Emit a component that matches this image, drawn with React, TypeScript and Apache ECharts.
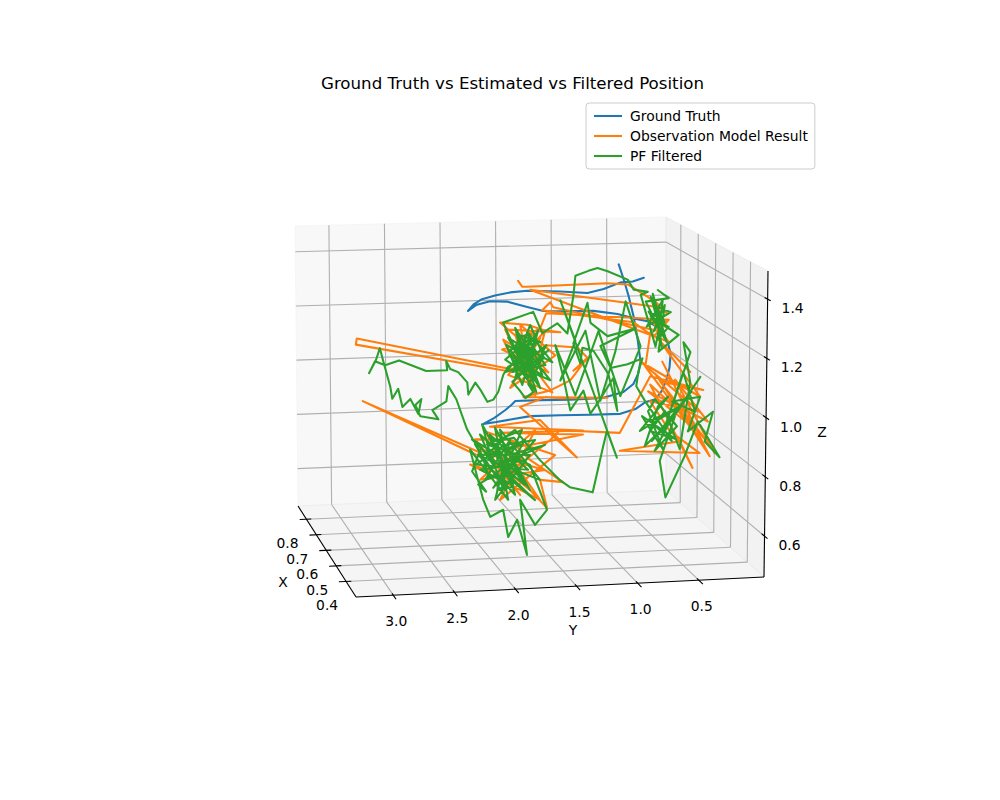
import React, { useEffect, useRef } from "react";
import * as echarts from "echarts";

type P3 = [number, number, number];

const TITLE = "Ground Truth vs Estimated vs Filtered Position";
const SERIES_NAMES = ["Ground Truth", "Observation Model Result", "PF Filtered"];
const SERIES_COLORS = ["#1f77b4", "#ff7f0e", "#2ca02c"];

// 3D axis limits (data units)
const X_LIM: [number, number] = [0.3, 0.885];
const Y_LIM: [number, number] = [-0.034, 3.305];
const Z_LIM: [number, number] = [0.462, 1.495];
const X_TICKS = [0.4, 0.5, 0.6, 0.7, 0.8];
const Y_TICKS = [0.5, 1.0, 1.5, 2.0, 2.5, 3.0];
const Z_TICKS = [0.6, 0.8, 1.0, 1.2, 1.4];

// ---------- Ground truth [x, y, z] ----------
const groundTruth: P3[] = [
  [0.59, 0.804, 1.433], [0.59, 0.761, 1.379], [0.59, 0.718, 1.318], [0.59, 0.676, 1.247], [0.59, 0.641, 1.165],
  [0.59, 0.616, 1.087], [0.59, 0.633, 1.045], [0.59, 0.676, 1.007], [0.59, 0.761, 0.98], [0.59, 0.932, 0.962],
  [0.59, 1.214, 0.96], [0.59, 1.471, 0.962], [0.59, 1.685, 0.962], [0.59, 1.719, 0.949], [0.59, 1.77, 0.932],
  [0.59, 1.864, 0.906], [0.59, 1.958, 0.886], [0.59, 1.847, 0.891], [0.59, 1.702, 0.899], [0.59, 1.556, 0.907],
  [0.59, 1.3, 0.906], [0.59, 1.043, 0.904], [0.59, 0.787, 0.903], [0.59, 0.658, 0.918], [0.59, 0.573, 0.941],
  [0.59, 0.487, 0.95], [0.59, 0.436, 0.977], [0.59, 0.393, 1.019], [0.59, 0.368, 1.061], [0.59, 0.359, 1.11],
  [0.59, 0.385, 1.153], [0.59, 0.445, 1.197], [0.59, 0.547, 1.227], [0.59, 0.676, 1.24], [0.59, 0.812, 1.257],
  [0.59, 1.018, 1.271], [0.59, 1.3, 1.273], [0.59, 1.445, 1.276], [0.59, 1.582, 1.292], [0.59, 1.753, 1.313],
  [0.59, 1.898, 1.316], [0.59, 2.018, 1.304], [0.59, 2.086, 1.284], [0.59, 2.035, 1.308], [0.59, 1.967, 1.324],
  [0.59, 1.856, 1.336], [0.59, 1.727, 1.345], [0.59, 1.582, 1.349], [0.59, 1.3, 1.343], [0.59, 1.069, 1.335],
  [0.59, 0.932, 1.347], [0.59, 0.787, 1.369], [0.59, 0.684, 1.371], [0.59, 0.59, 1.383],
];

// ---------- Observation model result ----------
const obsUpper: P3[] = [
  [0.59, 1.659, 1.385], [0.59, 1.625, 1.364], [0.59, 1.582, 1.363], [0.59, 0.898, 1.367], [0.59, 0.727, 1.361],
  [0.59, 0.556, 1.315], [0.59, 0.385, 1.252], [0.59, 0.488, 1.296], [0.59, 0.402, 1.206], [0.59, 0.53, 1.233],
  [0.59, 0.377, 1.153], [0.59, 1.557, 1.352], [0.59, 0.488, 1.279], [0.59, 0.445, 1.19], [0.59, 1.36, 1.288],
  [0.59, 1.386, 1.306], [0.59, 1.454, 1.279], [0.59, 0.676, 1.226], [0.59, 0.505, 1.173], [0.59, 0.377, 1.231],
  [0.59, 1.42, 1.268], [0.59, 1.471, 1.216], [0.59, 1.642, 1.177], [0.59, 1.813, 1.24], [0.59, 1.582, 1.229],
  [0.59, 1.445, 1.209], [0.59, 1.3, 1.199],
  [0.59, 1.77, 1.215], [0.59, 1.514, 0.98], [0.59, 1.685, 1.196], [0.59, 1.403, 1.059], [0.59, 1.796, 1.145],
  [0.59, 1.471, 1.181], [0.59, 1.728, 1.009], [0.59, 1.343, 1.118], [0.59, 1.642, 1.23], [0.59, 1.557, 1.017],
  [0.59, 1.428, 1.208], [0.59, 1.745, 1.055], [0.59, 1.368, 0.988], [0.59, 1.659, 1.149], [0.59, 1.488, 1.096],
  [0.59, 1.787, 1.18],
  [0.59, 1.728, 1.126], [0.59, 1.599, 1.07], [0.59, 1.77, 1.08],
  [0.59, 3.035, 1.2], [0.59, 3.044, 1.179], [0.59, 1.71, 1.065], [0.59, 1.557, 1.105], [0.59, 1.428, 1.155],
  [0.59, 1.155, 1.143], [0.59, 1.061, 1.102], [0.59, 1.189, 1.062], [0.59, 1.069, 1.106], [0.59, 1.215, 1.028],
  [0.59, 1.386, 0.995], [0.59, 1.616, 0.975], [0.59, 0.898, 0.962], [0.59, 1.3, 0.966], [0.59, 1.428, 0.972],
];
const obsLower: P3[] = [
  [0.4, 1.856, 1.025], [0.4, 1.386, 0.846], [0.4, 1.691, 0.978], [0.4, 2.104, 0.962], [0.4, 1.336, 0.937],
  [0.4, 2.022, 0.94], [0.4, 1.336, 0.923], [0.4, 1.774, 0.895], [0.4, 2.203, 0.879], [0.4, 3.153, 1.064],
  [0.4, 2.22, 0.869], [0.4, 1.856, 0.862], [0.4, 1.98, 0.814], [0.4, 1.774, 0.742], [0.4, 1.633, 0.679],
  [0.4, 1.691, 0.775], [0.4, 1.501, 0.764], [0.4, 1.774, 0.844], [0.4, 1.939, 0.915],
  [0.4, 2.228, 0.921], [0.4, 1.856, 0.727], [0.4, 2.104, 0.867], [0.4, 1.65, 0.808], [0.4, 2.187, 0.784],
  [0.4, 1.732, 0.945], [0.4, 2.022, 0.713], [0.4, 1.567, 0.857], [0.4, 2.145, 0.946], [0.4, 1.898, 0.785],
  [0.4, 2.269, 0.837], [0.4, 1.691, 0.707], [0.4, 1.98, 0.882], [0.4, 1.815, 0.828], [0.4, 2.063, 0.765],
  [0.4, 1.609, 0.908],
  [0.4, 1.526, 0.941],
  [0.4, 1.031, 0.924], [0.4, 0.783, 1.113], [0.4, 0.345, 1.06], [0.4, 0.7, 1.094], [0.4, 0.263, 0.858],
  [0.4, 0.453, 0.954], [0.4, 0.783, 1.085], [0.4, 0.428, 0.794], [0.4, 0.535, 0.887], [0.4, 1.031, 0.863],
  [0.4, 0.37, 0.844], [0.4, 0.618, 0.923], [0.4, 0.783, 1.028], [0.4, 0.37, 0.986], [0.4, 0.866, 1.165],
  [0.4, 0.37, 1.037], [0.4, 0.7, 1.23], [0.4, 0.453, 1.123], [0.4, 0.783, 1.265],
  [0.4, 0.824, 1.147], [0.4, 0.329, 0.866], [0.4, 0.742, 1.122], [0.4, 0.287, 0.832], [0.4, 0.684, 1.162],
  [0.4, 0.387, 0.919], [0.4, 0.799, 1.062], [0.4, 0.304, 0.951], [0.4, 0.577, 1.099], [0.4, 0.246, 0.841],
];

// ---------- PF filtered ----------
const pfUpperRight: P3[] = [
  [0.59, 0.471, 1.338], [0.59, 0.377, 1.308], [0.59, 0.573, 1.298], [0.59, 0.445, 1.19], [0.59, 0.53, 1.315],
  [0.59, 0.411, 1.224], [0.59, 0.548, 1.262], [0.59, 0.394, 1.153], [0.59, 0.513, 1.325], [0.59, 0.436, 1.136],
  [0.59, 0.488, 1.279], [0.59, 0.359, 1.258], [0.59, 0.565, 1.209], [0.59, 0.428, 1.302], [0.59, 0.471, 1.162],
  [0.59, 0.377, 1.206], [0.59, 0.53, 1.244], [0.59, 0.291, 1.176], [0.59, 0.462, 1.119], [0.59, 0.411, 1.284],
  [0.59, 0.505, 1.191], [0.59, 0.445, 1.232], [0.59, 0.488, 1.137], [0.59, 0.616, 1.323],
];
const pfTopArc: P3[] = [
  [0.59, 0.556, 1.333], [0.59, 0.676, 1.342], [0.59, 0.727, 1.378], [0.59, 0.898, 1.41], [0.59, 0.984, 1.422],
  [0.59, 1.061, 1.413], [0.59, 1.172, 1.397], [0.59, 1.189, 1.327], [0.59, 1.24, 1.194], [0.59, 1.326, 1.231],
  [0.59, 1.454, 1.198], [0.59, 1.531, 1.274],
];
const pfUpperLeft: P3[] = [
  [0.59, 1.787, 1.24], [0.59, 1.71, 1.161], [0.59, 1.762, 1.215], [0.59, 1.642, 1.106], [0.59, 1.745, 1.186],
  [0.59, 1.557, 1.133], [0.59, 1.685, 1.22], [0.59, 1.599, 1.07], [0.59, 1.728, 1.143], [0.59, 1.471, 1.167],
  [0.59, 1.659, 1.195], [0.59, 1.514, 1.033], [0.59, 1.77, 1.109], [0.59, 1.574, 1.176], [0.59, 1.428, 1.085],
  [0.59, 1.71, 1.065], [0.59, 1.488, 1.209], [0.59, 1.625, 1.018], [0.59, 1.762, 1.162], [0.59, 1.539, 1.104],
  [0.59, 1.659, 1.142], [0.59, 1.608, 1.12], [0.59, 1.676, 1.1], [0.59, 1.582, 1.084], [0.59, 1.633, 1.113],
  [0.59, 1.557, 1.147], [0.59, 1.616, 1.166], [0.59, 1.693, 1.146], [0.59, 1.642, 1.187], [0.59, 1.565, 1.197],
  [0.59, 1.514, 1.157], [0.59, 1.582, 1.133], [0.59, 1.522, 1.083], [0.59, 1.462, 1.103], [0.59, 1.505, 1.068],
  [0.59, 1.574, 1.02], [0.59, 1.531, 0.991], [0.59, 1.599, 0.971], [0.59, 1.651, 1.001], [0.59, 1.71, 1.03],
  [0.59, 1.403, 1.137], [0.59, 1.685, 1.044], [0.59, 1.582, 1.204], [0.59, 1.454, 1.05], [0.59, 1.736, 1.126],
  [0.59, 1.505, 0.991], [0.59, 1.642, 1.17], [0.59, 1.386, 1.031], [0.59, 1.693, 1.09], [0.59, 1.557, 1.228],
  [0.59, 1.437, 1.109], [0.59, 1.762, 1.066], [0.59, 1.599, 1.148], [0.59, 1.471, 1.004], [0.59, 1.668, 1.125],
  [0.59, 1.531, 1.182], [0.59, 1.368, 1.094], [0.59, 1.719, 1.178], [0.59, 1.574, 1.042], [0.59, 1.42, 1.155],
  [0.59, 1.651, 1.078], [0.59, 1.497, 1.132],
];
const pfLeftWander: P3[] = [
  [0.59, 1.745, 1.084], [0.59, 1.787, 1.056], [0.59, 1.83, 0.997], [0.59, 1.872, 0.97], [0.59, 1.924, 0.963],
  [0.59, 1.984, 1.007], [0.59, 2.026, 1.032], [0.59, 2.086, 0.991], [0.59, 2.095, 1.034], [0.59, 2.172, 1.071],
  [0.59, 2.24, 1.083], [0.59, 2.274, 1.111], [0.59, 2.266, 1.079], [0.59, 2.445, 1.079], [0.59, 2.676, 1.119],
  [0.59, 2.796, 1.104], [0.59, 2.881, 1.119], [0.59, 2.933, 1.078], [0.59, 2.873, 1.123], [0.59, 2.839, 1.164],
  [0.59, 2.804, 1.107], [0.59, 2.753, 1.029], [0.59, 2.736, 0.986], [0.59, 2.685, 1.02], [0.59, 2.65, 0.956],
  [0.59, 2.582, 0.983], [0.59, 2.514, 0.929], [0.59, 2.488, 0.981], [0.59, 2.539, 0.961], [0.59, 2.497, 0.921],
  [0.59, 2.343, 0.908], [0.59, 2.394, 0.941], [0.59, 2.274, 0.97], [0.59, 2.257, 1.023], [0.59, 2.189, 0.976],
];
const pfLowerLeft: P3[] = [
  [0.4, 2.294, 0.956], [0.4, 2.104, 0.817], [0.4, 2.228, 0.904], [0.4, 1.98, 0.746], [0.4, 2.187, 0.937],
  [0.4, 1.856, 0.812], [0.4, 2.145, 0.783], [0.4, 1.939, 0.915], [0.4, 2.063, 0.714], [0.4, 1.774, 0.861],
  [0.4, 2.203, 0.869], [0.4, 1.898, 0.728], [0.4, 2.022, 0.951], [0.4, 1.691, 0.775], [0.4, 2.121, 0.851],
  [0.4, 1.815, 0.913], [0.4, 1.98, 0.797], [0.4, 1.732, 0.707], [0.4, 2.253, 0.921], [0.4, 2.038, 0.866],
  [0.4, 2.046, 0.856], [0.4, 1.997, 0.821], [0.4, 2.071, 0.799], [0.4, 1.964, 0.773], [0.4, 2.03, 0.747],
  [0.4, 1.922, 0.755], [0.4, 1.972, 0.807], [0.4, 1.889, 0.846], [0.4, 1.947, 0.881], [0.4, 1.856, 0.896],
  [0.4, 1.906, 0.921], [0.4, 1.997, 0.916], [0.4, 2.088, 0.884], [0.4, 2.154, 0.845], [0.4, 2.112, 0.789],
  [0.4, 2.203, 0.768], [0.4, 2.137, 0.743], [0.4, 2.253, 0.813], [0.4, 2.178, 0.893], [0.4, 2.079, 0.833],
  [0.4, 2.17, 0.971], [0.4, 1.922, 0.779], [0.4, 2.104, 0.935], [0.4, 1.79, 0.811], [0.4, 2.22, 0.836],
  [0.4, 1.98, 0.899], [0.4, 1.732, 0.911], [0.4, 2.079, 0.755], [0.4, 1.873, 0.863], [0.4, 2.129, 0.902],
  [0.4, 1.84, 0.947], [0.4, 2.022, 0.781], [0.4, 2.187, 0.818], [0.4, 1.914, 0.83], [0.4, 1.774, 0.742],
  [0.4, 2.063, 0.958], [0.4, 1.955, 0.712], [0.4, 2.269, 0.887], [0.4, 2.162, 0.716], [0.4, 2.104, 0.657],
  [0.4, 1.997, 0.679], [0.4, 1.955, 0.586], [0.4, 1.881, 0.643], [0.4, 1.799, 0.522], [0.4, 1.856, 0.71],
  [0.4, 1.732, 0.623], [0.4, 1.633, 0.672], [0.4, 1.774, 0.827], [0.4, 1.939, 0.864], [0.4, 1.65, 0.893],
  [0.4, 2.022, 0.832], [0.4, 1.815, 0.76], [0.4, 2.063, 0.9], [0.4, 1.898, 0.948], [0.4, 1.691, 0.842],
  [0.4, 1.526, 0.771], [0.4, 1.444, 0.746], [0.4, 1.254, 0.725], [0.4, 1.171, 0.876], [0.4, 1.138, 0.933],
  [0.4, 1.055, 0.84],
];
const pfMiddle: P3[] = [
  [0.59, 1.3, 1.312], [0.59, 1.172, 1.168], [0.59, 1.3, 1.029], [0.59, 1.086, 1.202], [0.59, 0.958, 0.952],
  [0.59, 0.83, 1.126], [0.59, 0.744, 1.301], [0.59, 0.616, 1.14], [0.59, 0.787, 0.966], [0.59, 0.975, 1.199],
  [0.59, 1.172, 0.974], [0.59, 1.343, 1.154],
  [0.59, 1.274, 1.039], [0.59, 1.215, 0.922], [0.59, 1.103, 0.99], [0.59, 1.043, 0.908], [0.59, 0.984, 0.942],
  [0.59, 0.847, 1.031], [0.59, 0.813, 0.914], [0.59, 0.89, 1.046], [0.59, 1.018, 1.13], [0.59, 1.112, 1.142],
  [0.59, 1.129, 1.086], [0.59, 1.189, 1.158], [0.59, 1.069, 1.3], [0.59, 1.043, 1.229], [0.59, 0.898, 1.18],
  [0.59, 0.659, 1.204], [0.59, 0.958, 1.146], [0.59, 0.872, 1.067], [0.59, 0.727, 1.078], [0.59, 0.599, 1.097],
  [0.59, 0.633, 1.052], [0.59, 0.651, 0.999],
];
const pfRight: P3[] = [
  [0.4, 0.824, 1.029], [0.4, 0.601, 0.889], [0.4, 0.783, 0.96], [0.4, 0.535, 1.006], [0.4, 0.866, 0.928],
  [0.4, 0.634, 1.042], [0.4, 0.717, 1.01], [0.4, 0.824, 0.876], [0.4, 0.618, 0.957], [0.4, 0.742, 0.858],
  [0.4, 0.56, 0.939], [0.4, 0.742, 1.034], [0.4, 0.799, 0.994], [0.4, 0.676, 0.863], [0.4, 0.849, 0.978],
  [0.4, 0.568, 0.895], [0.4, 0.783, 0.926], [0.4, 0.659, 0.992], [0.4, 0.535, 0.86], [0.4, 0.453, 1.089],
  [0.4, 0.511, 1.226], [0.4, 0.453, 1.191], [0.4, 0.684, 0.907], [0.4, 0.511, 1.124], [0.4, 0.411, 0.987],
  [0.4, 0.601, 1.024], [0.4, 0.37, 1.037], [0.4, 0.469, 0.92], [0.4, 0.263, 0.984], [0.4, 0.329, 0.883],
  [0.4, 0.205, 0.827], [0.4, 0.387, 0.953], [0.4, 0.494, 0.836], [0.4, 0.651, 0.697], [0.4, 0.7, 0.823],
  [0.4, 0.577, 0.973], [0.4, 0.767, 0.892], [0.4, 0.445, 1.055], [0.4, 0.643, 0.94], [0.4, 0.37, 1.105],
];

const observation: P3[] = [...obsUpper, ...obsLower];
const pfFiltered: P3[] = [
  ...pfUpperRight, ...pfTopArc, ...pfUpperLeft, ...pfLeftWander,
  ...pfLowerLeft, ...pfMiddle, ...pfRight,
];

// ---------- camera: screen position of the 8 corners of the axes box ----------
// key: u (x min/max) v (y min/max) w (z min/max)
const BOX: Record<string, [number, number]> = {
  "000": [764, 577], "100": [666, 490], "010": [356, 597], "110": [298, 506],
  "001": [768, 271], "101": [666, 217], "011": [353, 283], "111": [295, 226],
};

function lerp(a: number[], b: number[], t: number): [number, number] {
  return [a[0] + (b[0] - a[0]) * t, a[1] + (b[1] - a[1]) * t];
}
function proj(x: number, y: number, z: number): [number, number] {
  const u = (x - X_LIM[0]) / (X_LIM[1] - X_LIM[0]);
  const v = (y - Y_LIM[0]) / (Y_LIM[1] - Y_LIM[0]);
  const w = (z - Z_LIM[0]) / (Z_LIM[1] - Z_LIM[0]);
  const b0 = lerp(lerp(BOX["000"], BOX["100"], u), lerp(BOX["010"], BOX["110"], u), v);
  const b1 = lerp(lerp(BOX["001"], BOX["101"], u), lerp(BOX["011"], BOX["111"], u), v);
  return lerp(b0, b1, w);
}
const xAt = (u: number) => X_LIM[0] + u * (X_LIM[1] - X_LIM[0]);
const yAt = (v: number) => Y_LIM[0] + v * (Y_LIM[1] - Y_LIM[0]);

const [X0, X1] = X_LIM;
const [Y0, Y1] = Y_LIM;
const [Z0, Z1] = Z_LIM;

const FONT = '13.89px "DejaVu Sans", sans-serif';
const LW = 2.08; // 1.5 pt
const THIN = 1.11; // 0.8 pt

function segSeries(segs: number[][], color: string, width: number, z: number) {
  return {
    type: "custom",
    coordinateSystem: "cartesian2d",
    silent: true,
    clip: false,
    z,
    data: segs,
    renderItem: (params: any, api: any) => {
      const a = api.coord([api.value(0), api.value(1)]);
      const b = api.coord([api.value(2), api.value(3)]);
      return {
        type: "line",
        shape: { x1: a[0], y1: a[1], x2: b[0], y2: b[1] },
        style: { stroke: color, lineWidth: width },
      };
    },
  };
}

function textSeries(items: { p: [number, number]; text: string }[], z: number) {
  return {
    type: "custom",
    coordinateSystem: "cartesian2d",
    silent: true,
    clip: false,
    z,
    data: items.map((i) => i.p),
    renderItem: (params: any, api: any) => {
      const c = api.coord([api.value(0), api.value(1)]);
      return {
        type: "text",
        x: c[0],
        y: c[1],
        style: {
          text: items[params.dataIndex].text,
          fill: "#000",
          font: FONT,
          textAlign: "center",
          textVerticalAlign: "middle",
        },
      };
    },
  };
}

function seg(a: P3, b: P3): number[] {
  const p = proj(a[0], a[1], a[2]);
  const q = proj(b[0], b[1], b[2]);
  return [p[0], p[1], q[0], q[1]];
}

function buildOption() {
  const panes = [
    { pts: [[X1, Y0, Z0], [X1, Y1, Z0], [X1, Y1, Z1], [X1, Y0, Z1]], fill: "rgba(242,242,242,0.5)" },
    { pts: [[X0, Y0, Z0], [X1, Y0, Z0], [X1, Y0, Z1], [X0, Y0, Z1]], fill: "rgba(230,230,230,0.5)" },
    { pts: [[X0, Y0, Z0], [X1, Y0, Z0], [X1, Y1, Z0], [X0, Y1, Z0]], fill: "rgba(236,236,236,0.5)" },
  ].map((p) => ({ pts: p.pts.map((c) => proj(c[0], c[1], c[2])), fill: p.fill }));

  const paneSeries = {
    type: "custom",
    coordinateSystem: "cartesian2d",
    silent: true,
    clip: false,
    z: 1,
    data: panes.map((p) => p.pts[0]),
    renderItem: (params: any, api: any) => {
      const pane = panes[params.dataIndex];
      return {
        type: "polygon",
        shape: { points: pane.pts.map((p) => api.coord(p)) },
        style: { fill: pane.fill, stroke: pane.fill, lineWidth: 1 },
      };
    },
  };

  const grid: number[][] = [];
  Y_TICKS.forEach((y) => {
    grid.push(seg([X1, y, Z0], [X1, y, Z1]));
    grid.push(seg([X0, y, Z0], [X1, y, Z0]));
  });
  Z_TICKS.forEach((z) => {
    grid.push(seg([X1, Y0, z], [X1, Y1, z]));
    grid.push(seg([X0, Y0, z], [X1, Y0, z]));
  });
  X_TICKS.forEach((x) => {
    grid.push(seg([x, Y0, Z0], [x, Y1, Z0]));
    grid.push(seg([x, Y0, Z0], [x, Y0, Z1]));
  });

  const axes: number[][] = [
    seg([X0, Y1, Z0], [X1, Y1, Z0]),
    seg([X0, Y0, Z0], [X0, Y1, Z0]),
    seg([X0, Y0, Z0], [X0, Y0, Z1]),
  ];
  X_TICKS.forEach((x) => axes.push(seg([x, yAt(1.018), Z0], [x, yAt(0.987), Z0])));
  Y_TICKS.forEach((y) => axes.push(seg([xAt(0.02), y, Z0], [xAt(-0.045), y, Z0])));
  Z_TICKS.forEach((z) => axes.push(seg([xAt(0.03), Y0, z], [xAt(-0.03), Y0, z])));

  const labels: { p: [number, number]; text: string }[] = [];
  X_TICKS.forEach((x) => {
    const p = proj(x, Y1, Z0);
    labels.push({ p: [p[0] - 19, p[1] + 24], text: x.toFixed(1) });
  });
  Y_TICKS.forEach((y) => {
    const p = proj(X0, y, Z0);
    labels.push({ p: [p[0] + 3, p[1] + 26], text: y.toFixed(1) });
  });
  Z_TICKS.forEach((z) => {
    const p = proj(X0, Y0, z);
    labels.push({ p: [p[0] + 25, p[1] + 9], text: z.toFixed(1) });
  });
  const xl = proj((X0 + X1) / 2, Y1, Z0);
  labels.push({ p: [xl[0] - 44, xl[1] + 30], text: "X" });
  const yl = proj(X0, (Y0 + Y1) / 2, Z0);
  labels.push({ p: [yl[0] + 13, yl[1] + 43], text: "Y" });
  const zl = proj(X0, Y0, (Z0 + Z1) / 2);
  labels.push({ p: [zl[0] + 56, zl[1] + 8], text: "Z" });

  const datasets = [groundTruth, observation, pfFiltered];
  const lineSeries = datasets.map((pts, i) => ({
    type: "line",
    name: SERIES_NAMES[i],
    data: pts.map((p) => proj(p[0], p[1], p[2])),
    symbol: "none",
    showSymbol: false,
    clip: false,
    silent: true,
    z: 5 + i,
    color: SERIES_COLORS[i],
    itemStyle: { color: SERIES_COLORS[i] },
    lineStyle: { color: SERIES_COLORS[i], width: LW, join: "round", cap: "round" },
  }));

  return {
    animation: false,
    backgroundColor: "#ffffff",
    grid: { left: 0, right: 0, top: 0, bottom: 0 },
    xAxis: { type: "value", min: 0, max: 1000, show: false },
    yAxis: { type: "value", min: 0, max: 800, inverse: true, show: false },
    legend: {
      data: SERIES_NAMES.map((n) => ({ name: n, icon: "rect" })),
      orient: "vertical",
      left: 586,
      top: 103,
      padding: [6, 7, 6, 8],
      itemGap: 6,
      itemWidth: 28,
      itemHeight: LW,
      selectedMode: false,
      backgroundColor: "rgba(255,255,255,0.8)",
      borderColor: "#cccccc",
      borderWidth: 1,
      borderRadius: 3,
      textStyle: {
        color: "#000",
        fontFamily: '"DejaVu Sans", sans-serif',
        fontSize: 13.89,
        lineHeight: 14,
        padding: [0, 0, 0, 3],
      },
    },
    graphic: [
      {
        type: "text",
        x: 512.5,
        y: 83,
        style: {
          text: TITLE,
          fill: "#000",
          font: '16.67px "DejaVu Sans", sans-serif',
          textAlign: "center",
          textVerticalAlign: "middle",
        },
      },
    ],
    series: [
      paneSeries,
      segSeries(grid, "#b0b0b0", THIN, 2),
      segSeries(axes, "#000000", THIN, 3),
      ...lineSeries,
      textSeries(labels, 10),
    ],
  };
}

export default function App() {
  const ref = useRef<HTMLDivElement>(null);
  useEffect(() => {
    if (!ref.current) return;
    const chart = echarts.init(ref.current, null, { renderer: "svg" });
    chart.setOption(buildOption() as any);
    return () => chart.dispose();
  }, []);
  return (
    <div
      ref={ref}
      style={{ position: "absolute", left: 0, top: 0, width: 1000, height: 800, background: "#fff" }}
    />
  );
}
